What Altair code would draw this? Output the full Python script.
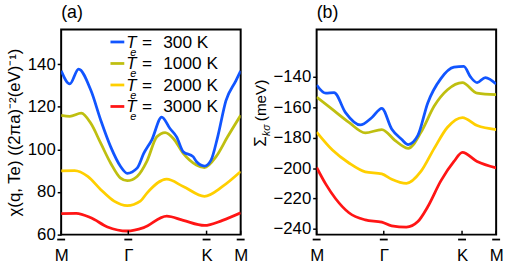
import altair as alt
import pandas as pd

FONT = "Arial"
W, H = 182, 208

labels = ["300 K", "1000 K", "2000 K", "3000 K"]
colors = ["#1155ff", "#bfbf10", "#ffcf00", "#ff1515"]

tick_pos = [0.0, 0.374, 0.81, 1.0]
tick_text = ["M", "Γ", "K", "M"]

# ---- panel (a): chi(q, Te)
a_x_300 = [0, 0.048, 0.097, 0.166, 0.221, 0.276, 0.331, 0.368, 0.423, 0.46, 0.505, 0.56,
           0.606, 0.643, 0.68, 0.735, 0.753, 0.798, 0.835, 0.872, 0.918, 0.973, 1]
a_y_300 = [136.9, 130.7, 137.7, 127.6, 113.6, 101.2, 92.0, 88.8, 91.2, 98.1, 104.5, 115.2,
           109.8, 105.9, 98.9, 96.6, 94.3, 92.2, 95.0, 105.9, 122.9, 132.2, 136.9]
a_x_1000 = [0, 0.048, 0.112, 0.166, 0.221, 0.276, 0.331, 0.368, 0.423, 0.478, 0.533, 0.579,
            0.625, 0.68, 0.753, 0.798, 0.863, 0.927, 1]
a_y_1000 = [116.0, 115.5, 117.0, 112.1, 102.8, 93.5, 86.5, 85.3, 87.3, 94.5, 105.9, 107.9,
            105.1, 98.1, 92.7, 91.5, 96.6, 105.9, 116.0]
a_x_2000 = [0, 0.075, 0.148, 0.221, 0.295, 0.368, 0.441, 0.478, 0.588, 0.68, 0.798, 0.899, 1]
a_y_2000 = [89.9, 90.0, 87.3, 81.1, 75.7, 73.6, 75.7, 79.5, 86.0, 82.6, 78.0, 82.6, 89.6]
a_x_3000 = [0, 0.084, 0.166, 0.258, 0.368, 0.46, 0.588, 0.68, 0.798, 0.899, 1]
a_y_3000 = [69.9, 70.0, 67.9, 63.6, 61.7, 63.3, 68.7, 66.7, 64.3, 66.7, 70.2]

# ---- panel (b): Sigma_k sigma (meV)
b_x_300 = [0, 0.051, 0.097, 0.161, 0.243, 0.308, 0.363, 0.418, 0.473, 0.51, 0.564, 0.619,
           0.692, 0.765, 0.82, 0.857, 0.894, 0.94, 1]
b_y_300 = [-145.3, -150.7, -150.3, -163.5, -171.6, -166.7, -160.7, -174.2, -181.0, -184.5,
           -178.5, -157.1, -141.1, -133.6, -133.1, -140.0, -143.8, -140.4, -144.7]
b_x_1000 = [0, 0.088, 0.18, 0.271, 0.363, 0.436, 0.473, 0.51, 0.582, 0.655, 0.729, 0.812,
            0.894, 1]
b_y_1000 = [-153.2, -161.4, -169.9, -176.8, -174.6, -181.7, -185.0, -187.0, -176.3, -159.2,
            -148.5, -143.8, -150.7, -151.7]
b_x_2000 = [0, 0.088, 0.18, 0.271, 0.363, 0.418, 0.5, 0.582, 0.655, 0.729, 0.812, 0.894, 1]
b_y_2000 = [-176.3, -188.1, -196.6, -202.4, -203.7, -207.3, -210.0, -202.0, -187.0, -173.1,
            -166.7, -172.0, -174.6]
b_x_3000 = [0, 0.051, 0.106, 0.18, 0.271, 0.363, 0.418, 0.5, 0.564, 0.619, 0.692, 0.765,
            0.812, 0.894, 1]
b_y_3000 = [-199.5, -210.5, -220.1, -229.3, -234.0, -235.5, -237.9, -238.7, -235.1, -225.4,
            -208.4, -195.6, -189.6, -195.6, -199.8]

a_ticks = [60, 80, 100, 120, 140]
b_ticks = [-240, -220, -200, -180, -160, -140]
a_domain = [60, 156.3]
b_domain = [-243.7, -108.8]

label_expr = " : ".join(
    f"abs(datum.value - {p}) < 0.01 ? '{t}'" for p, t in zip(tick_pos, tick_text)
) + " : ''"

xscale = alt.Scale(domain=[0, 1], nice=False, zero=False)
xaxis = alt.Axis(values=tick_pos, labelExpr=label_expr, ticks=False, domain=False, grid=False,
                 labelFont=FONT, labelFontSize=17, labelPadding=13.5, labelFlush=False,
                 labelColor="black", title=None)


def yaxis(ticks, title=None):
    kw = dict(values=ticks, format="d", tickSize=4, tickWidth=1.5, tickColor="black",
              domain=False, grid=False, labelFont=FONT, labelFontSize=17, labelPadding=2,
              labelColor="black")
    if title is not None:
        kw.update(title=title, titleFont=FONT, titleFontSize=17, titleFontWeight="normal",
                  titleColor="black", titlePadding=4)
    else:
        kw.update(title=None)
    return alt.Axis(**kw)


def panel(xs, ys, domain, ticks, ytitle):
    ysc = alt.Scale(domain=domain, nice=False, zero=False)
    ax = yaxis(ticks, ytitle)
    layers = []
    for i in reversed(range(len(labels))):
        df = pd.DataFrame({"x": xs[i], "y": ys[i]})
        layers.append(
            alt.Chart(df).mark_line(interpolate="monotone", strokeWidth=2.8,
                                    color=colors[i], clip=True)
            .encode(x=alt.X("x:Q", scale=xscale, axis=xaxis),
                    y=alt.Y("y:Q", scale=ysc, axis=ax))
        )
    tdf = pd.DataFrame({"x": tick_pos})
    layers.append(
        alt.Chart(tdf).mark_rule(color="black", strokeWidth=1.5)
        .encode(x=alt.X("x:Q", scale=xscale, axis=xaxis), y=alt.value(H - 4), y2=alt.value(H))
    )
    layers.append(
        alt.Chart(tdf).mark_rule(color="black", strokeWidth=1.8, xOffset=-4, x2Offset=4)
        .encode(x=alt.X("x:Q", scale=xscale, axis=xaxis), x2=alt.X2("x"), y=alt.value(H + 5))
    )
    return layers


# legend for panel (a)
legend_layers = []
for i, lab in enumerate(labels):
    ry = 12.7 + 21.8 * i
    one = pd.DataFrame({"t": [lab]})
    legend_layers.append(
        alt.Chart(one).mark_rule(color=colors[i], strokeWidth=2.8)
        .encode(x=alt.value(50), x2=alt.value(64), y=alt.value(ry))
    )
    legend_layers.append(
        alt.Chart(one).mark_text(text="T", font=FONT, fontSize=17, fontStyle="italic",
                                 align="left", baseline="alphabetic", color="black")
        .encode(x=alt.value(66), y=alt.value(ry + 5.8))
    )
    legend_layers.append(
        alt.Chart(one).mark_text(text="e", font=FONT, fontSize=11, fontStyle="italic",
                                 align="left", baseline="alphabetic", color="black")
        .encode(x=alt.value(70), y=alt.value(ry + 14))
    )
    legend_layers.append(
        alt.Chart(one).mark_text(text="=", font=FONT, fontSize=17.5,
                                 align="left", baseline="alphabetic", color="black")
        .encode(x=alt.value(82), y=alt.value(ry + 5.8))
    )
    legend_layers.append(
        alt.Chart(one).mark_text(font=FONT, fontSize=17.5, align="left",
                                 baseline="alphabetic", color="black")
        .encode(x=alt.value(103.5), y=alt.value(ry + 5.8), text="t:N")
    )

# custom y-title for panel (b): Sigma with subscript k sigma
one = pd.DataFrame({"t": ["Σ"]})
sigma_layers = [
    alt.Chart(one).mark_text(text="Σ", font=FONT, fontSize=17, angle=270, align="left",
                             baseline="alphabetic", color="black")
    .encode(x=alt.value(-51), y=alt.value(119)),
    alt.Chart(one).mark_text(text="kσ", font=FONT, fontSize=10.5, fontStyle="italic", angle=270,
                             align="left", baseline="alphabetic", color="black")
    .encode(x=alt.value(-47.5), y=alt.value(108)),
    alt.Chart(one).mark_text(text="(meV)", font=FONT, fontSize=15.5, angle=270, align="left",
                             baseline="alphabetic", color="black")
    .encode(x=alt.value(-51.5), y=alt.value(93)),
]

title_kw = dict(anchor="start", frame="group", font=FONT, fontSize=18, fontWeight="normal",
                color="black", offset=8)

pa = alt.layer(
    *panel([a_x_300, a_x_1000, a_x_2000, a_x_3000], [a_y_300, a_y_1000, a_y_2000, a_y_3000],
           a_domain, a_ticks, "χ(q, Te) ((2πa)⁻²(eV)⁻¹)"),
    *legend_layers,
).properties(width=W, height=H, title=alt.TitleParams("(a)", **title_kw))

pb = alt.layer(
    *panel([b_x_300, b_x_1000, b_x_2000, b_x_3000], [b_y_300, b_y_1000, b_y_2000, b_y_3000],
           b_domain, b_ticks, None),
    *sigma_layers,
).properties(width=W, height=H, title=alt.TitleParams("(b)", **title_kw))

chart = (
    alt.hconcat(pa, pb, spacing=2)
    .properties(padding={"left": 4, "top": 1, "right": 2, "bottom": 2}, background="white")
    .configure_view(stroke="black", strokeWidth=2)
)

chart.save("out.html", embed_options={"renderer": "svg", "actions": False})
